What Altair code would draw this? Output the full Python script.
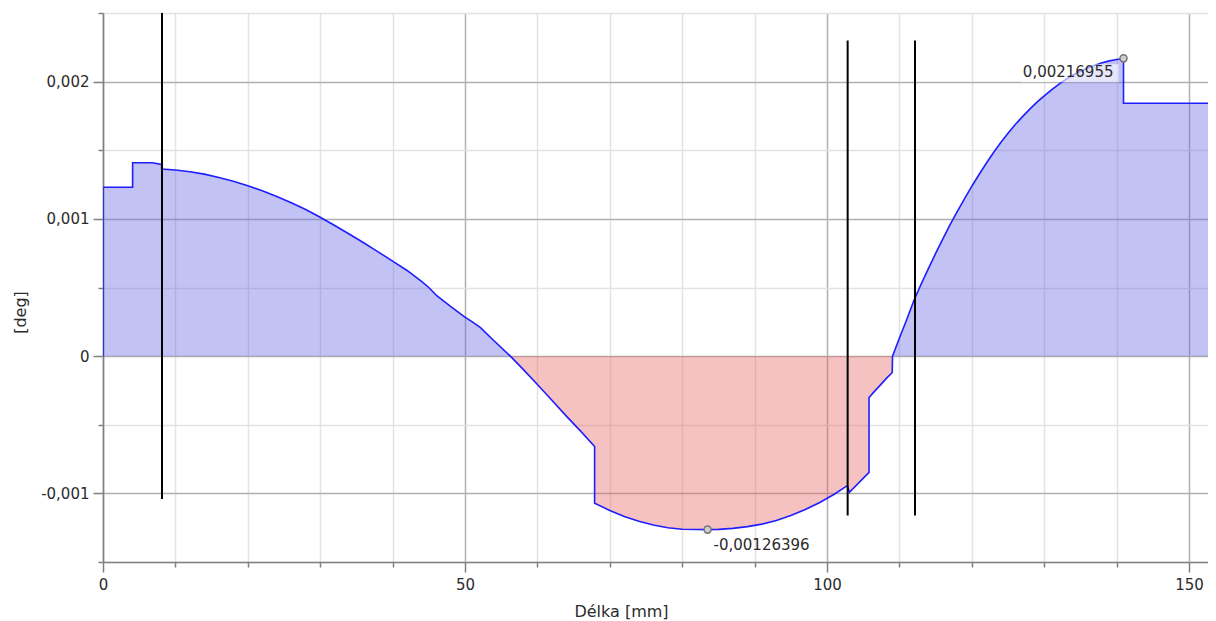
import altair as alt
import pandas as pd

# ---- curve data ----
x_mm = [0, 0, 4.09, 4.09, 6.8, 8.1, 8.1, 10.0, 12.0, 14.0, 16.0, 18.0, 20.0, 22.0,
        24.0, 26.0, 28.0, 30.0, 32.0, 34.0, 36.0, 38.0, 40.0, 42.0, 44.0, 45.0,
        46.1, 48.0, 49.8, 51.0, 52.1, 54.0, 56.26, 58.0, 60.0, 62.0, 64.0, 66.0,
        67.9, 67.9, 70.0, 72.0, 74.0, 76.0, 78.0, 80.0, 82.0, 83.5, 85.0, 87.0,
        89.0, 91.0, 93.0, 95.0, 97.0, 99.0, 101.0, 102.8, 103.1, 105.8, 105.8,
        106.4, 108.3, 109.0, 109.05, 110.0, 111.0, 112.0, 113.0, 114.0, 115.0,
        116.0, 117.0, 118.0, 119.0, 120.0, 121.0, 122.0, 123.0, 124.0, 125.0,
        126.0, 127.0, 128.0, 129.0, 130.0, 131.0, 132.0, 133.0, 134.0, 135.0,
        136.0, 137.0, 138.0, 139.0, 140.0, 140.95, 140.95, 154.0]
angle_deg = [0.0, 0.00123, 0.00123, 0.001409, 0.001409, 0.001397, 0.001363, 0.001356,
             0.001343, 0.001326, 0.001302, 0.001274, 0.001242, 0.001205, 0.001163,
             0.001118, 0.001068, 0.001012, 0.000952, 0.00089, 0.000826, 0.00076,
             0.000692, 0.000624, 0.000544, 0.0005, 0.00044, 0.000362, 0.000292,
             0.00025, 0.00021, 0.000112, 0.0, -0.000095, -0.000207, -0.000322,
             -0.000437, -0.000548, -0.000658, -0.001072, -0.001124, -0.001168,
             -0.001203, -0.00123, -0.00125, -0.001261, -0.0012635, -0.00126396,
             -0.001262, -0.001255, -0.001242, -0.001224, -0.001198, -0.001162,
             -0.001118, -0.001066, -0.001006, -0.000944, -0.000992, -0.000847,
             -0.000302, -0.000266, -0.000157, -0.000121, 0.0, 0.000132, 0.000265,
             0.000405, 0.000525, 0.000638, 0.000748, 0.000855, 0.000958, 0.001055,
             0.001148, 0.001238, 0.001323, 0.001405, 0.001483, 0.001556, 0.001624,
             0.001687, 0.001745, 0.0018, 0.00185, 0.001896, 0.00194, 0.00198,
             0.002016, 0.002048, 0.002076, 0.0021, 0.00212, 0.002137, 0.002151,
             0.002161, 0.00216955, 0.001842, 0.001842]

# ---- vertical black lines ----
rule_x = [8.15, 102.85, 112.15]
rule_top = [0.0025, 0.0023, 0.0023]
rule_bottom = [-0.001041, -0.001162, -0.001162]

# ---- extreme markers ----
peak_x = [140.95, 83.5]
peak_y = [0.00216955, -0.00126396]
peak_label = ["0,00216955", "-0,00126396"]
peak_kind = ["max", "min"]

# ---- axes ticks ----
x_ticks = [0, 10, 20, 30, 40, 50, 60, 70, 80, 90, 100, 110, 120, 130, 140, 150]
x_major = [0, 50, 100, 150]
x_major_labels = ["0", "50", "100", "150"]
y_ticks = [-0.0015, -0.001, -0.0005, 0, 0.0005, 0.001, 0.0015, 0.002, 0.0025]
y_major = [-0.001, 0, 0.001, 0.002]
y_major_labels = ["-0,001", "0", "0,001", "0,002"]

X_DOMAIN = [0, 152.62]
Y_DOMAIN = [-0.0015, 0.0025]

FONT = "DejaVu Sans"
TEXT = "#2b2b2b"
AXIS_GRAY = "#808080"
GRID_MAJOR = "#b0b0b0"
GRID_MINOR = "#e2e2e2"


def label_expr(vals, labels):
    parts = [f"datum.value === {v} ? '{l}'" for v, l in zip(vals, labels)]
    return " : ".join(parts) + " : ''"


def major_test(vals):
    return "indexof([" + ", ".join(str(v) for v in vals) + "], datum.value) >= 0"


x_axis = alt.Axis(
    values=x_ticks,
    labelExpr=label_expr(x_major, x_major_labels),
    grid=True,
    gridColor={"condition": {"test": major_test(x_major), "value": GRID_MAJOR}, "value": GRID_MINOR},
    gridWidth=1.5,
    tickSize={"condition": {"test": major_test(x_major), "value": 10}, "value": 5},
    tickColor=AXIS_GRAY, tickWidth=1.5,
    domainColor=AXIS_GRAY, domainWidth=1.5,
    labelFont=FONT, labelFontSize=15, labelColor=TEXT,
    labelBaseline="middle", labelPadding=12, labelFlush=False, labelOverlap=False,
    titleFont=FONT, titleFontSize=16, titleFontWeight="normal", titleColor=TEXT,
    titleX=518, titleY=49, titleBaseline="middle",
)
y_axis = alt.Axis(
    values=y_ticks,
    labelExpr=label_expr(y_major, y_major_labels),
    grid=True,
    gridColor={"condition": {"test": major_test(y_major), "value": GRID_MAJOR}, "value": GRID_MINOR},
    gridWidth=1.5,
    tickSize={"condition": {"test": major_test(y_major), "value": 10}, "value": 5},
    tickColor=AXIS_GRAY, tickWidth=1.5,
    domainColor=AXIS_GRAY, domainWidth=1.5,
    labelFont=FONT, labelFontSize=15, labelColor=TEXT,
    labelPadding=4, labelFlush=False, labelOverlap=False,
    titleFont=FONT, titleFontSize=16, titleFontWeight="normal", titleColor=TEXT,
    titleX=-83, titleY=299, titleBaseline="middle",
)


def xe(field):
    return alt.X(f"{field}:Q", scale=alt.Scale(domain=X_DOMAIN, nice=False, zero=False),
                 axis=x_axis, title="Délka [mm]")


def ye(field):
    return alt.Y(f"{field}:Q", scale=alt.Scale(domain=Y_DOMAIN, nice=False, zero=False),
                 axis=y_axis, title="[deg]")


curve = pd.DataFrame({"x": x_mm, "y": angle_deg, "i": list(range(len(x_mm)))})
rules = pd.DataFrame({"rx": rule_x, "rtop": rule_top, "rbot": rule_bottom})
peaks = pd.DataFrame({"px": peak_x, "py": peak_y, "lab": peak_label, "kind": peak_kind})

base = alt.Chart(curve).transform_calculate(
    pos="max(datum.y, 0)", neg="min(datum.y, 0)", zero="0"
)

area_pos = base.mark_area(color="#6666e6", opacity=0.4, clip=True).encode(
    x=xe("x"), y=ye("pos"), y2=alt.Y2("zero:Q"))
area_neg = base.mark_area(color="#e66464", opacity=0.4, clip=True).encode(
    x=xe("x"), y=ye("neg"), y2=alt.Y2("zero:Q"))
line = base.mark_line(color="#1e1eff", strokeWidth=1.6, clip=True).encode(
    x=xe("x"), y=ye("y"), order="i:Q")

rule_layer = alt.Chart(rules).mark_rule(color="black", strokeWidth=2, clip=True).encode(
    x=xe("rx"), y=ye("rtop"), y2=alt.Y2("rbot:Q"))

pk = alt.Chart(peaks)
bg = pk.transform_filter("datum.kind == 'max'").mark_rect(
    color="white", opacity=0.6, width=97, height=18, xOffset=-53.5, yOffset=15
).encode(x=xe("px"), y=ye("py"))
txt_max = pk.transform_filter("datum.kind == 'max'").mark_text(
    align="right", baseline="middle", dx=-10, dy=14, font=FONT, fontSize=15, color=TEXT
).encode(x=xe("px"), y=ye("py"), text="lab:N")
txt_min = pk.transform_filter("datum.kind == 'min'").mark_text(
    align="left", baseline="middle", dx=6, dy=15, font=FONT, fontSize=15, color=TEXT
).encode(x=xe("px"), y=ye("py"), text="lab:N")
markers = pk.mark_point(shape="circle", size=50, filled=True, fill="#cfcfcf",
                        stroke="#747474", strokeWidth=1.5, opacity=1).encode(
    x=xe("px"), y=ye("py"))

chart = alt.layer(area_pos, area_neg, line, rule_layer, bg, txt_max, txt_min, markers).properties(
    width=1105, height=549,
    autosize=alt.AutoSizeParams(type="none"),
    padding={"left": 95, "top": 5, "right": 0, "bottom": 60},
    background="white",
).configure_view(stroke=None)

chart.save("out.html", embed_options={"renderer": "svg", "actions": False})
